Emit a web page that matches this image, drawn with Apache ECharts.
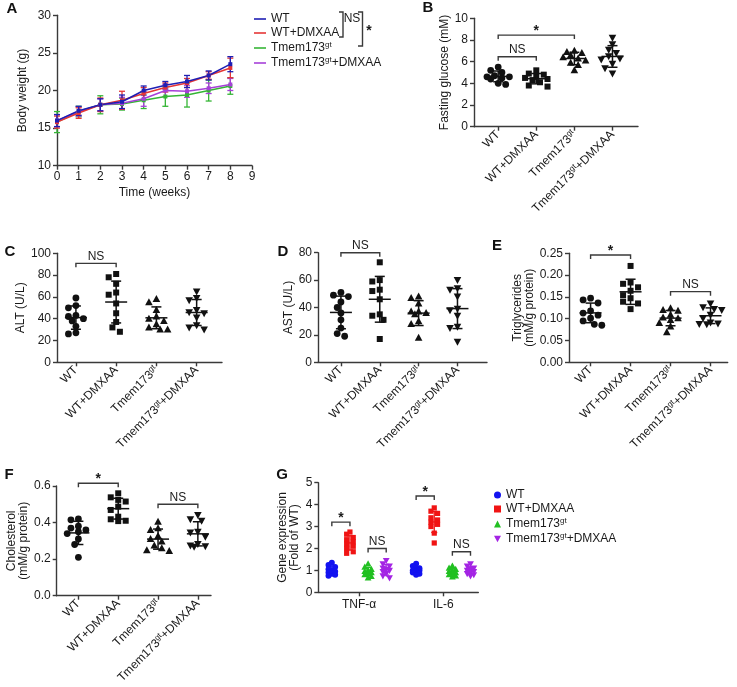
<!DOCTYPE html>
<html><head><meta charset="utf-8">
<script src="https://cdn.jsdelivr.net/npm/echarts@6/dist/echarts.min.js"></script>
<style>html,body{margin:0;padding:0;background:#fff}#c{width:737px;height:687px}</style>
</head><body><div id="c"></div><script>
// ---------------- DATA ----------------
const groupNames = ['WT', 'WT+DMXAA', 'Tmem173gt', 'Tmem173gt+DMXAA'];
const weeks = [0, 1, 2, 3, 4, 5, 6, 7, 8];
const bwWT = [16.0, 17.3, 18.1, 18.5, 20.0, 20.7, 21.2, 22.0, 23.5];
const bwWTsd = [0.8, 0.6, 0.8, 0.9, 0.6, 0.5, 0.8, 0.6, 1.0];
const bwWTD = [15.8, 17.0, 18.1, 18.7, 19.6, 20.4, 21.0, 22.0, 23.0];
const bwWTDsd = [0.8, 0.7, 0.9, 1.2, 0.8, 0.6, 0.6, 0.5, 1.3];
const bwKO = [15.8, 17.2, 18.1, 18.2, 18.7, 19.2, 19.4, 20.0, 20.6];
const bwKOsd = [1.4, 0.7, 1.2, 0.8, 1.1, 1.3, 1.6, 1.4, 1.1];
const bwKOD = [16.0, 17.2, 18.1, 18.3, 18.9, 20.0, 19.9, 20.3, 20.8];
const bwKODsd = [0.8, 0.6, 0.8, 0.8, 1.0, 0.8, 0.8, 0.7, 0.8];

const gluWT = [5.5, 5.2, 5.0, 4.7, 4.6, 4.6, 4.5, 4.4, 4.0, 3.9];
const gluWTD = [5.2, 4.9, 4.8, 4.6, 4.5, 4.4, 4.3, 4.1, 3.8, 3.7];
const gluKO = [7.0, 6.9, 6.8, 6.6, 6.4, 6.3, 6.1, 5.9, 5.7, 5.2];
const gluKOD = [8.2, 7.6, 7.1, 6.8, 6.5, 6.3, 6.2, 5.8, 5.4, 4.9];

const altWT = [59, 52, 50, 43, 42, 40, 38, 33, 27, 26];
const altWTD = [81, 78, 72, 64, 62, 54, 45, 37, 32, 28];
const altKO = [58, 55, 48, 42, 40, 38, 35, 32, 30, 30];
const altKOD = [65, 59, 57, 48, 46, 45, 41, 34, 32, 30];

const astWT = [51, 49, 48, 44, 40, 36, 31, 25, 21, 19];
const astWTD = [73, 60, 59, 53, 52, 46, 35, 34, 31, 17];
const astKO = [48, 47, 43, 37, 37, 36, 35, 30, 28, 18];
const astKOD = [60, 54, 53, 48, 39, 38, 34, 26, 25, 15];

const tgWT = [0.147, 0.143, 0.136, 0.118, 0.113, 0.108, 0.101, 0.095, 0.087, 0.085];
const tgWTD = [0.221, 0.183, 0.180, 0.172, 0.164, 0.154, 0.147, 0.139, 0.135, 0.122];
const tgKO = [0.124, 0.120, 0.118, 0.109, 0.103, 0.101, 0.097, 0.090, 0.082, 0.069];
const tgKOD = [0.135, 0.126, 0.122, 0.120, 0.109, 0.101, 0.091, 0.089, 0.088, 0.087];

const chWT = [0.42, 0.415, 0.38, 0.37, 0.36, 0.35, 0.34, 0.31, 0.28, 0.21];
const chWTD = [0.56, 0.538, 0.524, 0.515, 0.487, 0.469, 0.432, 0.418, 0.41, 0.408];
const chKO = [0.405, 0.369, 0.36, 0.327, 0.31, 0.296, 0.275, 0.26, 0.248, 0.245];
const chKOD = [0.442, 0.418, 0.41, 0.35, 0.345, 0.323, 0.283, 0.275, 0.27, 0.268];

const geneCats = ['TNF-α', 'IL-6'];
const tnfWT = [1.35, 1.25, 1.15, 1.05, 1.0, 0.95, 0.9, 0.85, 0.8, 0.75];
const tnfWTD = [2.75, 2.65, 2.5, 2.4, 2.3, 2.2, 2.1, 2.0, 1.85, 1.78];
const tnfKO = [1.3, 1.15, 1.05, 1.0, 0.95, 0.9, 0.85, 0.8, 0.72, 0.66];
const tnfKOD = [1.45, 1.3, 1.2, 1.1, 1.05, 1.0, 0.95, 0.85, 0.75, 0.66];
const il6WT = [1.3, 1.2, 1.1, 1.05, 1.0, 1.0, 0.95, 0.9, 0.85, 0.8];
const il6WTD = [3.85, 3.7, 3.6, 3.4, 3.3, 3.2, 3.1, 3.0, 2.7, 2.25];
const il6KO = [1.2, 1.1, 1.05, 1.0, 0.95, 0.9, 0.85, 0.8, 0.75, 0.7];
const il6KOD = [1.3, 1.2, 1.1, 1.05, 1.0, 0.95, 0.9, 0.85, 0.8, 0.75];

// significance brackets: [fromGroup, toGroup, level, label]
const brB = [[0, 2, 8.45, '*'], [0, 1, 6.45, 'NS']];
const brC = [[0, 1, 90.8, 'NS']];
const brD = [[0, 1, 80, 'NS']];
const brE = [[0, 1, 0.246, '*'], [2, 3, 0.162, 'NS']];
const brF = [[0, 1, 0.615, '*'], [2, 3, 0.50, 'NS']];
// G: [gene, fromGroup, toGroup, level, label]
const brG = [[0, 0, 1, 3.2, '*'], [0, 2, 3, 2.0, 'NS'], [1, 0, 1, 4.39, '*'], [1, 2, 3, 1.85, 'NS']];

// ---------------- HELPERS ----------------
const FONT = '"Liberation Sans", Arial, sans-serif';
const TXT = '#1a1a1a';
const AX = '#3a3a3a';
const SHAPES = ['circle', 'rect', 'tri', 'itri'];
const lineCols = ['#1f1fb4', '#e53535', '#35b535', '#a640d8'];
const dotCols = ['#1212f0', '#f01414', '#22c022', '#a424e4'];

function mean(a) { return a.reduce((s, v) => s + v, 0) / a.length; }
function sd(a) { const m = mean(a); return Math.sqrt(a.reduce((s, v) => s + (v - m) * (v - m), 0) / (a.length - 1)); }

const rich = {
  n: { fontSize: 12, fontFamily: FONT, color: TXT, lineHeight: 14 },
  s: { fontSize: 8, fontFamily: FONT, color: TXT, lineHeight: 8, verticalAlign: 'top' }
};
function richName(n) {
  const m = n.match(/^(Tmem173)gt(.*)$/);
  if (!m) return '{n|' + n + '}';
  return '{n|' + m[1] + '}{s|gt}' + (m[2] ? '{n|' + m[2] + '}' : '');
}

function swarm(ys, d, maxK) {
  const idx = ys.map((y, i) => i).sort((a, b) => ys[a] - ys[b]);
  const placed = []; const off = new Array(ys.length).fill(0);
  const step = d * 0.55;
  idx.forEach(i => {
    let best = 0, bestScore = -Infinity;
    for (let k = 0; k <= 2 * maxK; k++) {
      const c = (k % 2 === 1 ? -1 : 1) * Math.ceil(k / 2) * step;
      let minD = Infinity;
      placed.forEach(p => { const dd = Math.hypot(p.x - c, p.y - ys[i]); if (dd < minD) minD = dd; });
      if (minD >= d * 0.95) { best = c; break; }
      if (minD > bestScore) { bestScore = minD; best = c; }
    }
    off[i] = best; placed.push({ x: best, y: ys[i] });
  });
  return off;
}

function shapeEl(shape, cx, cy, s, color) {
  const h = s / 2;
  if (shape === 'circle') return { type: 'circle', shape: { cx, cy, r: h }, style: { fill: color } };
  if (shape === 'rect') return { type: 'rect', shape: { x: cx - h + 0.4, y: cy - h + 0.4, width: s - 0.8, height: s - 0.8 }, style: { fill: color } };
  if (shape === 'tri') return { type: 'polygon', shape: { points: [[cx, cy - h - 0.6], [cx + h + 0.4, cy + h - 0.4], [cx - h - 0.4, cy + h - 0.4]] }, style: { fill: color } };
  return { type: 'polygon', shape: { points: [[cx, cy + h + 0.6], [cx + h + 0.4, cy - h + 0.4], [cx - h - 0.4, cy - h + 0.4]] }, style: { fill: color } };
}

function dotSeries(gi, items, opt) {
  return {
    type: 'custom', name: opt.name, xAxisIndex: gi, yAxisIndex: gi, clip: false, silent: true,
    itemStyle: { color: opt.color || '#111' },
    data: items.map((it, j) => [it.x, mean(it.vals), sd(it.vals), j]),
    renderItem(params, api) {
      const j = api.value(3), it = items[j], x = api.value(0), m = api.value(1), s = api.value(2);
      const c = api.coord([x, m]);
      const ys = it.vals.map(v => api.coord([x, v])[1]);
      const offs = swarm(ys, opt.size, opt.maxK);
      const ch = it.vals.map((v, k) => shapeEl(it.shape, c[0] + offs[k], ys[k], opt.size, it.color));
      const yt = api.coord([x, m + s])[1], yb = api.coord([x, m - s])[1];
      const ls = { stroke: it.color, lineWidth: opt.lw, fill: null };
      ch.push({ type: 'line', shape: { x1: c[0] - opt.mw, y1: c[1], x2: c[0] + opt.mw, y2: c[1] }, style: ls });
      ch.push({ type: 'line', shape: { x1: c[0], y1: yt, x2: c[0], y2: yb }, style: ls });
      ch.push({ type: 'line', shape: { x1: c[0] - opt.cw, y1: yt, x2: c[0] + opt.cw, y2: yt }, style: ls });
      ch.push({ type: 'line', shape: { x1: c[0] - opt.cw, y1: yb, x2: c[0] + opt.cw, y2: yb }, style: ls });
      return { type: 'group', children: ch };
    }
  };
}

function bracketSeries(gi, list) { // list: [xFrom, xTo, y, label]
  return {
    type: 'custom', xAxisIndex: gi, yAxisIndex: gi, clip: false, silent: true,
    data: list.map((b, i) => [b[0], b[2], b[1], i]),
    renderItem(params, api) {
      const b = list[api.value(3)];
      const p1 = api.coord([api.value(0), api.value(1)]), p2 = api.coord([api.value(2), api.value(1)]);
      const star = b[3] === '*';
      return {
        type: 'group', children: [
          { type: 'polyline', shape: { points: [[p1[0], p1[1] + 4], [p1[0], p1[1]], [p2[0], p1[1]], [p2[0], p1[1] + 4]] }, style: { stroke: AX, lineWidth: 1.4, fill: null } },
          { type: 'text', x: (p1[0] + p2[0]) / 2, y: p1[1] + (star ? 3 : -1), style: { text: b[3], fontFamily: FONT, fontSize: star ? 14 : 12, fontWeight: star ? 'bold' : 'normal', fill: TXT, align: 'center', verticalAlign: 'bottom' } }
        ]
      };
    }
  };
}

function errSeries(gi, xs, vals, sds, color) {
  return {
    type: 'custom', xAxisIndex: gi, yAxisIndex: gi, clip: false, silent: true,
    data: xs.map((x, i) => [x, vals[i], sds[i]]),
    renderItem(params, api) {
      const x = api.value(0), m = api.value(1), s = api.value(2);
      const t = api.coord([x, m + s]), b = api.coord([x, m - s]);
      const ls = { stroke: color, lineWidth: 1.3, fill: null };
      return {
        type: 'group', children: [
          { type: 'line', shape: { x1: t[0], y1: t[1], x2: b[0], y2: b[1] }, style: ls },
          { type: 'line', shape: { x1: t[0] - 3, y1: t[1], x2: t[0] + 3, y2: t[1] }, style: ls },
          { type: 'line', shape: { x1: b[0] - 3, y1: b[1], x2: b[0] + 3, y2: b[1] }, style: ls }
        ]
      };
    }
  };
}

const axLine = { show: true, onZero: false, lineStyle: { color: AX, width: 1.4 } };
const axTick = { show: true, length: 4, lineStyle: { color: AX, width: 1.4 } };
const lblBase = { color: TXT, fontSize: 12, fontFamily: FONT };

function yAx(gi, min, max, interval, name, nameGap, dec) {
  return {
    type: 'value', gridIndex: gi, min, max, interval,
    name, nameLocation: 'middle', nameGap, nameRotate: 90,
    nameTextStyle: { color: TXT, fontSize: 12, fontFamily: FONT, lineHeight: 12 },
    axisLine: axLine, axisTick: axTick, splitLine: { show: false },
    axisLabel: Object.assign({ margin: 6, formatter: v => v.toFixed(dec) }, lblBase)
  };
}
function catX(gi, min, max) {
  return {
    type: 'value', gridIndex: gi, min, max,
    axisLine: axLine, axisTick: Object.assign({ customValues: [1, 2, 3, 4] }, axTick),
    splitLine: { show: false },
    axisLabel: Object.assign({ customValues: [1, 2, 3, 4], rotate: 45, margin: 6, rich, formatter: v => richName(groupNames[Math.round(v) - 1]) }, lblBase)
  };
}
function groupItems(arrs) {
  return arrs.map((a, i) => ({ x: i + 1, vals: a, shape: SHAPES[i], color: '#111' }));
}
const dotOpt = { size: 6.8, maxK: 3, lw: 1.5, mw: 11, cw: 5 };
function catBrackets(list) { return list.map(b => [b[0] + 1, b[1] + 1, b[2], b[3]]); }

// ---------------- PANELS ----------------
const grids = [
  { left: 57, top: 15.3, width: 195, height: 150.4 },     // A
  { left: 474, top: 18.3, width: 164, height: 108.4 },    // B
  { left: 57, top: 253.3, width: 165, height: 109 },      // C
  { left: 318, top: 252.7, width: 169, height: 109.6 },   // D
  { left: 569, top: 253.3, width: 158.7, height: 109 },   // E
  { left: 56.7, top: 486, width: 154.3, height: 109.7 },  // F
  { left: 318.3, top: 482.7, width: 160, height: 109.6 }  // G
];

const xAxes = [
  {
    type: 'value', gridIndex: 0, min: 0, max: 9, interval: 1,
    name: 'Time (weeks)', nameLocation: 'middle', nameGap: 21,
    nameTextStyle: { color: TXT, fontSize: 12, fontFamily: FONT },
    axisLine: axLine, axisTick: axTick, splitLine: { show: false },
    axisLabel: Object.assign({ margin: 5 }, lblBase)
  },
  catX(1, 0.365, 4.67),
  catX(2, 0.53, 4.63),
  catX(3, 0.41, 4.76),
  catX(4, 0.46, 4.43),
  catX(5, 0.455, 4.33),
  {
    type: 'value', gridIndex: 6, min: 0.517, max: 2.415,
    axisLine: axLine, axisTick: Object.assign({ customValues: [1, 2] }, axTick), splitLine: { show: false },
    axisLabel: Object.assign({ customValues: [1, 2], margin: 6, formatter: v => geneCats[Math.round(v) - 1] }, lblBase)
  }
];
const yAxes = [
  yAx(0, 10, 30, 5, 'Body weight (g)', 28, 0),
  yAx(1, 0, 10, 2, 'Fasting glucose (mM)', 20, 0),
  yAx(2, 0, 100, 20, 'ALT (U/L)', 18, 0),
  yAx(3, 0, 80, 20, 'AST (U/L)', 18, 0),
  yAx(4, 0, 0.25, 0.05, 'Triglycerides\n(mM/g protein)', 33, 2),
  yAx(5, 0, 0.6, 0.2, 'Cholesterol\n(mM/g protein)', 27, 1),
  yAx(6, 0, 5, 1, 'Gene expression\n(Fold of WT)', 18, 0)
];

const series = [];
// A
const bwVals = [bwWT, bwWTD, bwKO, bwKOD];
const bwSds = [bwWTsd, bwWTDsd, bwKOsd, bwKODsd];
[2, 3, 1, 0].forEach(k => {
  series.push(errSeries(0, weeks, bwVals[k], bwSds[k], lineCols[k]));
  series.push({
    type: 'line', name: 'A·' + groupNames[k], xAxisIndex: 0, yAxisIndex: 0,
    data: weeks.map((w, i) => [w, bwVals[k][i]]),
    symbol: 'rect', symbolSize: 4, showSymbol: true,
    lineStyle: { color: lineCols[k], width: 1.5 }, itemStyle: { color: lineCols[k] },
    silent: true, animation: false
  });
});
// B-F
series.push(dotSeries(1, groupItems([gluWT, gluWTD, gluKO, gluKOD]), dotOpt));
series.push(bracketSeries(1, catBrackets(brB)));
series.push(dotSeries(2, groupItems([altWT, altWTD, altKO, altKOD]), dotOpt));
series.push(bracketSeries(2, catBrackets(brC)));
series.push(dotSeries(3, groupItems([astWT, astWTD, astKO, astKOD]), dotOpt));
series.push(bracketSeries(3, catBrackets(brD)));
series.push(dotSeries(4, groupItems([tgWT, tgWTD, tgKO, tgKOD]), dotOpt));
series.push(bracketSeries(4, catBrackets(brE)));
series.push(dotSeries(5, groupItems([chWT, chWTD, chKO, chKOD]), dotOpt));
series.push(bracketSeries(5, catBrackets(brF)));
// G
const gOff = [-0.3225, -0.1075, 0.1075, 0.3225];
const tnfAll = [tnfWT, tnfWTD, tnfKO, tnfKOD];
const il6All = [il6WT, il6WTD, il6KO, il6KOD];
[0, 1, 2, 3].forEach(k => {
  series.push(dotSeries(6, [
    { x: 1 + gOff[k], vals: tnfAll[k], shape: SHAPES[k], color: dotCols[k] },
    { x: 2 + gOff[k], vals: il6All[k], shape: SHAPES[k], color: dotCols[k] }
  ], { name: 'G·' + groupNames[k], color: dotCols[k], size: 6, maxK: 1, lw: 1.3, mw: 5, cw: 3 }));
});
series.push(bracketSeries(6, brG.map(b => [b[0] + 1 + gOff[b[1]], b[0] + 1 + gOff[b[2]], b[3], b[4]])));

const legendText = Object.assign({ rich }, lblBase);
const option = {
  animation: false,
  backgroundColor: '#fff',
  textStyle: { fontFamily: FONT },
  grid: grids,
  xAxis: xAxes,
  yAxis: yAxes,
  legend: [
    {
      left: 249, top: 8, orient: 'vertical', itemWidth: 12, itemHeight: 1.6, itemGap: 2,
      selectedMode: false, textStyle: legendText,
      formatter: n => richName(n.slice(2)),
      data: groupNames.map(g => ({ name: 'A·' + g, icon: 'rect' }))
    },
    {
      left: 489, top: 484, orient: 'vertical', itemWidth: 7, itemHeight: 7, itemGap: 2,
      selectedMode: false, textStyle: legendText,
      formatter: n => richName(n.slice(2)),
      data: [
        { name: 'G·' + groupNames[0], icon: 'circle' },
        { name: 'G·' + groupNames[1], icon: 'rect' },
        { name: 'G·' + groupNames[2], icon: 'triangle' },
        { name: 'G·' + groupNames[3], icon: 'path://M0,0L10,0L5,9Z' }
      ]
    }
  ],
  graphic: [
    ...[['A', 12, 9], ['B', 428, 8], ['C', 10, 252], ['D', 283, 252], ['E', 497, 246], ['F', 9, 475], ['G', 282, 475]].map(l => ({
      type: 'text', x: l[1], y: l[2], silent: true,
      style: { text: l[0], fontFamily: FONT, fontSize: 15, fontWeight: 'bold', fill: '#111', align: 'center', verticalAlign: 'middle' }
    })),
    { type: 'polyline', silent: true, shape: { points: [[339, 12], [343, 12], [343, 37], [339, 37]] }, style: { stroke: AX, lineWidth: 1.4, fill: null } },
    { type: 'text', silent: true, x: 352, y: 19, style: { text: 'NS', fontFamily: FONT, fontSize: 12, fill: TXT, align: 'center', verticalAlign: 'middle' } },
    { type: 'polyline', silent: true, shape: { points: [[358, 12], [362.5, 12], [362.5, 46], [358, 46]] }, style: { stroke: AX, lineWidth: 1.4, fill: null } },
    { type: 'text', silent: true, x: 369, y: 31, style: { text: '*', fontFamily: FONT, fontSize: 14, fontWeight: 'bold', fill: TXT, align: 'center', verticalAlign: 'middle' } }
  ],
  series
};
const chart = echarts.init(document.getElementById('c'), null, { renderer: 'canvas' });
chart.setOption(option);
</script></body></html>
